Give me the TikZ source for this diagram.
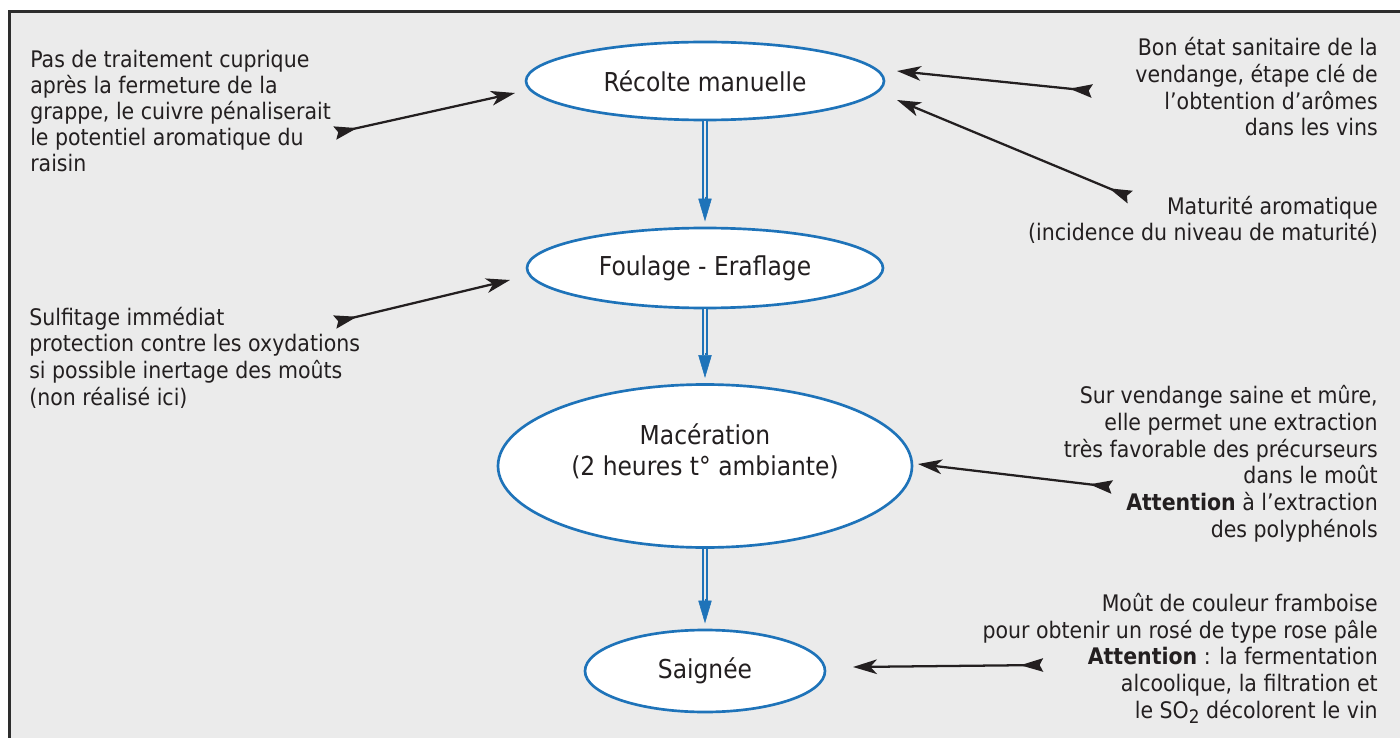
\documentclass[tikz,border=0pt]{standalone}
\usepackage{fontspec}
\setmainfont{DejaVu Sans}[FakeStretch=0.9]
\usetikzlibrary{arrows.meta,shapes.geometric,calc}
\definecolor{bg}{RGB}{235,235,235}
\definecolor{fr}{RGB}{45,45,45}
\definecolor{bl}{RGB}{30,115,185}
\definecolor{ink}{RGB}{35,31,32}
\begin{document}
\begin{tikzpicture}[x=0.75pt,y=-0.75pt,
  ell/.style={ellipse, draw=bl, line width=2pt, fill=white, inner sep=0pt, font=\fontsize{19.5}{23.5}\selectfont, text=ink},
  eltext/.style={inner sep=0pt, align=center, font=\fontsize{19.5}{23.5}\selectfont, text=ink},
  side/.style={inner sep=0pt, font=\fontsize{17.1}{20}\selectfont, text=ink},
  pointer/.style={draw=ink, line width=1.7pt, {Stealth[reversed, length=17pt, width=10pt, inset=2.5pt]}-{Stealth[length=18pt, width=11pt, inset=5pt]}},
  bshaft/.style={draw=bl, line width=1.4pt, double=bg, double distance=2pt},
  btip/.style={draw=bl, line width=0.4pt, -{Triangle[length=17pt, width=10pt]}}
]
\clip (0,0) rectangle (1400,738);
\fill[white] (0,0) rectangle (1400,738);
\draw[fr, line width=1.9pt, fill=bg] (9.5,11.5) rectangle (1420,760);

% process ellipses
\node[ell, minimum width=358*0.75pt, minimum height=78*0.75pt] (r1) at (705,81) {Récolte manuelle};
\node[ell, minimum width=356*0.75pt, minimum height=80*0.75pt] (r2) at (705,268) {Foulage - Eraflage};
\node[ell, minimum width=414*0.75pt, minimum height=163*0.75pt] (r3) at (705,466) {};
\node[eltext] (r3t) at (705,451) {Macération\\(2 heures t° ambiante)};
\node[ell, minimum width=240*0.75pt, minimum height=82*0.75pt] (r4) at (705,671) {Saignée};

% blue flow arrows
\draw[bshaft, shorten >=21pt] (r1.south) -- (r2.north);
\draw[btip, shorten >=4pt] ($(r2.north)+(0,-30)$) -- (r2.north);
\draw[bshaft, shorten >=21pt] (r2.south) -- (r3.north);
\draw[btip, shorten >=4pt] ($(r3.north)+(0,-30)$) -- (r3.north);
\draw[bshaft, shorten >=21pt] (r3.south) -- (r4.north);
\draw[btip, shorten >=4pt] ($(r4.north)+(0,-30)$) -- (r4.north);

% side texts (anchored at the baseline of their last line)
\node[side, anchor=base west, align=left, font=\fontsize{17.1}{19.5}\selectfont] (tl1) at (30,172)
  {Pas de traitement cuprique\\après la fermeture de la\\grappe, le cuivre pénaliserait\\le potentiel aromatique du\\raisin};
\node[side, anchor=base east, align=right] (tr1) at (1378,136)
  {Bon état sanitaire de la\\vendange, étape clé de\\l’obtention d’arômes\\dans les vins};
\node[side, anchor=base east, align=right] (tr2) at (1378,241)
  {Maturité aromatique\\(incidence du niveau de maturité)};
\node[side, anchor=base west, align=left] (tl2) at (29,405)
  {Sulfitage immédiat\\protection contre les oxydations\\si possible inertage des moûts\\(non réalisé ici)};
\node[side, anchor=base east, align=right] (tr3) at (1378,537)
  {Sur vendange saine et mûre,\\elle permet une extraction\\très favorable des précurseurs\\dans le moût\\\textbf{Attention} à l’extraction\\des polyphénols};
\node[side, anchor=base east, align=right] (tr4) at (1378,718)
  {Moût de couleur framboise\\pour obtenir un rosé de type rose pâle\\\textbf{Attention} : la fermentation\\alcoolique, la filtration et\\le SO\raisebox{-0.45ex}{\fontsize{14}{14}\selectfont 2} décolorent le vin};

% pointer arrows
\coordinate (t1) at (335,133); \coordinate (h1) at (515,93);
\coordinate (t2) at (1092,91); \coordinate (h2) at (897,71);
\coordinate (t3) at (1130,197); \coordinate (h3) at (897,100);
\coordinate (t4) at (335,322); \coordinate (h4) at (510,280);
\coordinate (t5) at (1112,487); \coordinate (h5) at (918,464);
\coordinate (t6) at (1043,665); \coordinate (h6) at (853,667);
\draw[pointer] (t1) -- (h1);
\draw[pointer] (t2) -- (h2);
\draw[pointer] (t3) -- (h3);
\draw[pointer] (t4) -- (h4);
\draw[pointer] (t5) -- (h5);
\draw[pointer] (t6) -- (h6);
\end{tikzpicture}
\end{document}
